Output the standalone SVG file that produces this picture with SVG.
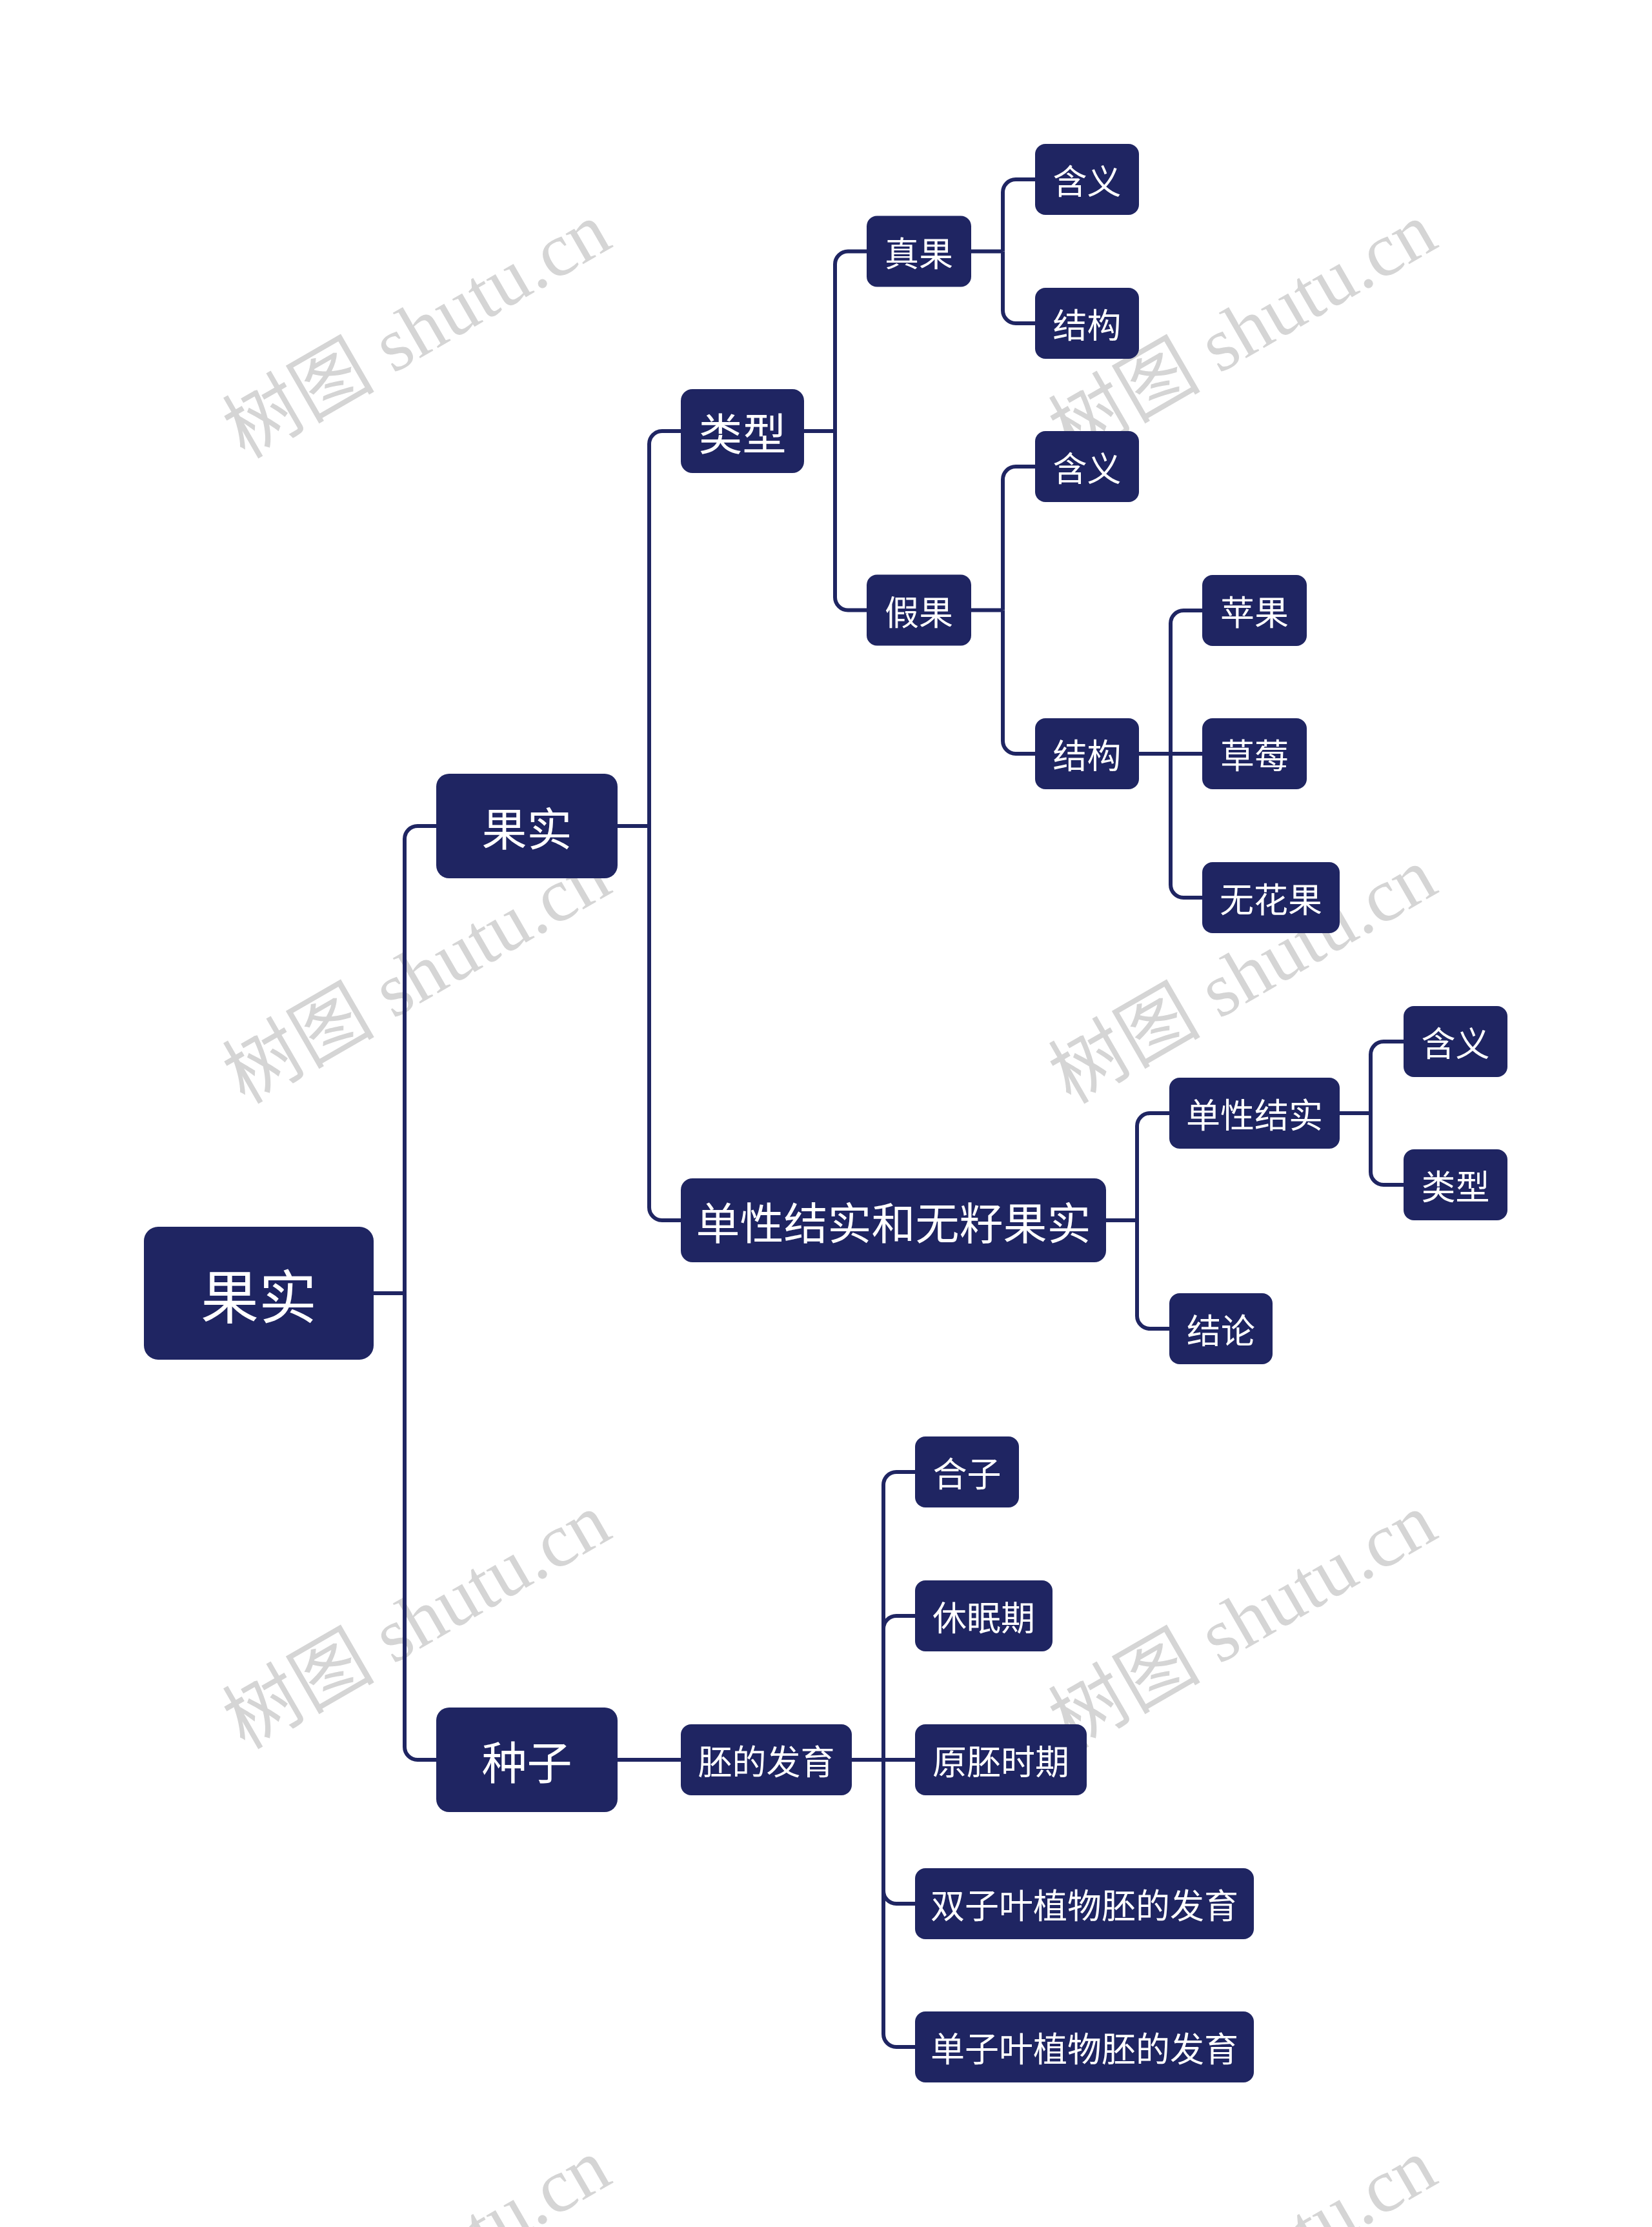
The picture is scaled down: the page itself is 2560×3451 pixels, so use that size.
<svg xmlns="http://www.w3.org/2000/svg" width="2560" height="3451" viewBox="0 0 2560 3451">
<style>
.wm{fill:#d5d5d5;font-family:"Liberation Serif","Noto Sans CJK SC",serif;font-size:118px}
.box{fill:#1f2562}
.t{fill:#ffffff;font-family:"Noto Sans CJK SC","Noto Sans",sans-serif;text-anchor:middle;dominant-baseline:central}
.f90{font-size:90px}.f70{font-size:70px}.f68{font-size:68px}.f53{font-size:53px}
.c{fill:none;stroke:#1f2562;stroke-width:6}
</style>
<rect width="2560" height="3451" fill="#ffffff"/>
<g id="watermarks">
<text class="wm" transform="translate(379,712) rotate(-30)">树图 shutu.cn</text>
<text class="wm" transform="translate(1659,712) rotate(-30)">树图 shutu.cn</text>
<text class="wm" transform="translate(379,1712) rotate(-30)">树图 shutu.cn</text>
<text class="wm" transform="translate(1659,1712) rotate(-30)">树图 shutu.cn</text>
<text class="wm" transform="translate(379,2712) rotate(-30)">树图 shutu.cn</text>
<text class="wm" transform="translate(1659,2712) rotate(-30)">树图 shutu.cn</text>
<text class="wm" transform="translate(379,3712) rotate(-30)">树图 shutu.cn</text>
<text class="wm" transform="translate(1659,3712) rotate(-30)">树图 shutu.cn</text>
</g>
<g id="connectors">
<path class="c" d="M579,2004 H627"/>
<path class="c" d="M627,2004 V1300 A20,20 0 0 1 647,1280 H676"/>
<path class="c" d="M627,2004 V2707 A20,20 0 0 0 647,2727 H676"/>
<path class="c" d="M957,1280 H1006"/>
<path class="c" d="M1006,1280 V688 A20,20 0 0 1 1026,668 H1055"/>
<path class="c" d="M1006,1280 V1871 A20,20 0 0 0 1026,1891 H1055"/>
<path class="c" d="M957,2727 H1055"/>
<path class="c" d="M1246,668 H1294"/>
<path class="c" d="M1294,668 V409.5 A20,20 0 0 1 1314,389.5 H1343"/>
<path class="c" d="M1294,668 V925.5 A20,20 0 0 0 1314,945.5 H1343"/>
<path class="c" d="M1505,389.5 H1554"/>
<path class="c" d="M1554,389.5 V298 A20,20 0 0 1 1574,278 H1604"/>
<path class="c" d="M1554,389.5 V481 A20,20 0 0 0 1574,501 H1604"/>
<path class="c" d="M1505,945.5 H1554"/>
<path class="c" d="M1554,945.5 V743 A20,20 0 0 1 1574,723 H1604"/>
<path class="c" d="M1554,945.5 V1148 A20,20 0 0 0 1574,1168 H1604"/>
<path class="c" d="M1765,1168 H1863"/>
<path class="c" d="M1814,1168 V966 A20,20 0 0 1 1834,946 H1863"/>
<path class="c" d="M1814,1168 V1371 A20,20 0 0 0 1834,1391 H1863"/>
<path class="c" d="M1714,1891 H1762"/>
<path class="c" d="M1762,1891 V1745 A20,20 0 0 1 1782,1725 H1812"/>
<path class="c" d="M1762,1891 V2039 A20,20 0 0 0 1782,2059 H1812"/>
<path class="c" d="M2076,1725 H2124"/>
<path class="c" d="M2124,1725 V1634 A20,20 0 0 1 2144,1614 H2175"/>
<path class="c" d="M2124,1725 V1816 A20,20 0 0 0 2144,1836 H2175"/>
<path class="c" d="M1320,2727 H1418"/>
<path class="c" d="M1369,2727 V2301 A20,20 0 0 1 1389,2281 H1418"/>
<path class="c" d="M1369,2727 V2524 A20,20 0 0 1 1389,2504 H1418"/>
<path class="c" d="M1369,2727 V2930 A20,20 0 0 0 1389,2950 H1418"/>
<path class="c" d="M1369,2727 V3152 A20,20 0 0 0 1389,3172 H1418"/>
</g>
<g id="n-root"><rect class="box" x="223" y="1901" width="356" height="206" rx="22"/><text class="t f90" x="401" y="2004">果实</text></g>
<g id="n-guoshi"><rect class="box" x="676" y="1199" width="281" height="162" rx="20"/><text class="t f70" x="816.5" y="1280">果实</text></g>
<g id="n-zhongzi"><rect class="box" x="676" y="2646" width="281" height="162" rx="20"/><text class="t f70" x="816.5" y="2727">种子</text></g>
<g id="n-leixing"><rect class="box" x="1055" y="603" width="191" height="130" rx="18"/><text class="t f68" x="1150.5" y="668">类型</text></g>
<g id="n-danxing-wuzi"><rect class="box" x="1055" y="1826" width="659" height="130" rx="18"/><text class="t f68" x="1384.5" y="1891">单性结实和无籽果实</text></g>
<g id="n-peifayu"><rect class="box" x="1055" y="2672" width="265" height="110" rx="16"/><text class="t f53" x="1187.5" y="2727">胚的发育</text></g>
<g id="n-zhenguo"><rect class="box" x="1343" y="334.5" width="162" height="110" rx="16"/><text class="t f53" x="1424" y="389.5">真果</text></g>
<g id="n-jiaguo"><rect class="box" x="1343" y="890.5" width="162" height="110" rx="16"/><text class="t f53" x="1424" y="945.5">假果</text></g>
<g id="n-hanyi-1"><rect class="box" x="1604" y="223" width="161" height="110" rx="16"/><text class="t f53" x="1684.5" y="278">含义</text></g>
<g id="n-jiegou-1"><rect class="box" x="1604" y="446" width="161" height="110" rx="16"/><text class="t f53" x="1684.5" y="501">结构</text></g>
<g id="n-hanyi-2"><rect class="box" x="1604" y="668" width="161" height="110" rx="16"/><text class="t f53" x="1684.5" y="723">含义</text></g>
<g id="n-jiegou-2"><rect class="box" x="1604" y="1113" width="161" height="110" rx="16"/><text class="t f53" x="1684.5" y="1168">结构</text></g>
<g id="n-pingguo"><rect class="box" x="1863" y="891" width="162" height="110" rx="16"/><text class="t f53" x="1944" y="946">苹果</text></g>
<g id="n-caomei"><rect class="box" x="1863" y="1113" width="162" height="110" rx="16"/><text class="t f53" x="1944" y="1168">草莓</text></g>
<g id="n-wuhuaguo"><rect class="box" x="1863" y="1336" width="213" height="110" rx="16"/><text class="t f53" x="1969.5" y="1391">无花果</text></g>
<g id="n-danxing"><rect class="box" x="1812" y="1670" width="264" height="110" rx="16"/><text class="t f53" x="1944" y="1725">单性结实</text></g>
<g id="n-hanyi-3"><rect class="box" x="2175" y="1559" width="161" height="110" rx="16"/><text class="t f53" x="2255.5" y="1614">含义</text></g>
<g id="n-leixing-2"><rect class="box" x="2175" y="1781" width="161" height="110" rx="16"/><text class="t f53" x="2255.5" y="1836">类型</text></g>
<g id="n-jielun"><rect class="box" x="1812" y="2004" width="160" height="110" rx="16"/><text class="t f53" x="1892" y="2059">结论</text></g>
<g id="n-hezi"><rect class="box" x="1418" y="2226" width="161" height="110" rx="16"/><text class="t f53" x="1498.5" y="2281">合子</text></g>
<g id="n-xiumian"><rect class="box" x="1418" y="2449" width="213" height="110" rx="16"/><text class="t f53" x="1524.5" y="2504">休眠期</text></g>
<g id="n-yuanpei"><rect class="box" x="1418" y="2672" width="266" height="110" rx="16"/><text class="t f53" x="1551" y="2727">原胚时期</text></g>
<g id="n-shuangziye"><rect class="box" x="1418" y="2895" width="525" height="110" rx="16"/><text class="t f53" x="1680.5" y="2950">双子叶植物胚的发育</text></g>
<g id="n-danziye"><rect class="box" x="1418" y="3117" width="525" height="110" rx="16"/><text class="t f53" x="1680.5" y="3172">单子叶植物胚的发育</text></g>
</svg>
